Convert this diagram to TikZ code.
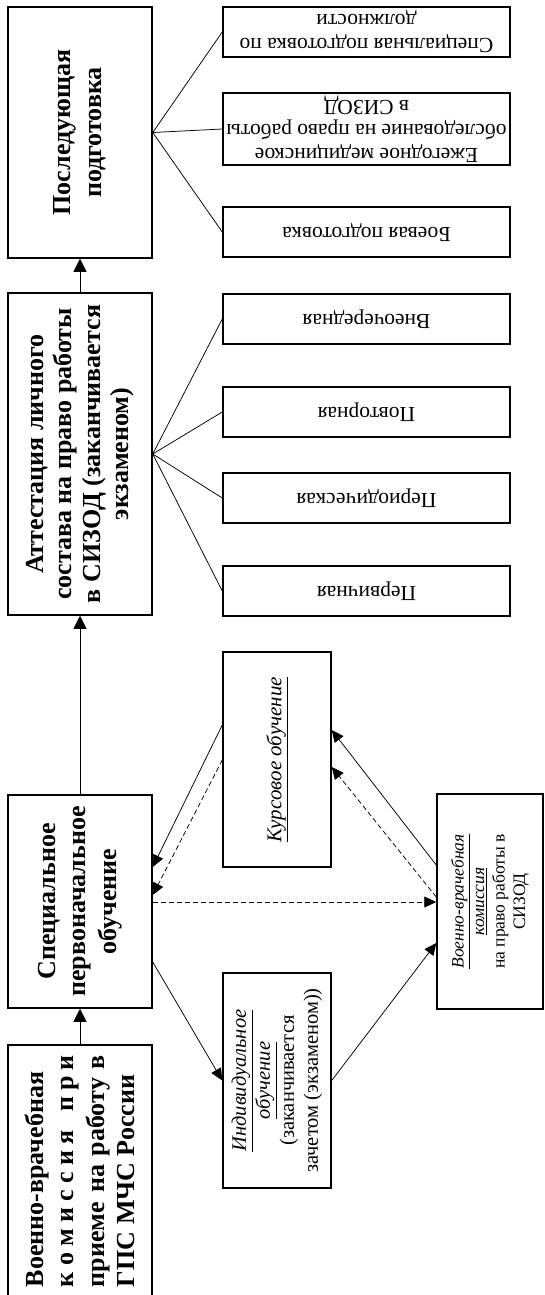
\documentclass[tikz,border=0pt]{standalone}
\usepackage{fontspec}
\setmainfont{Liberation Serif}
\usepackage{graphicx}
\usetikzlibrary{arrows.meta,calc}
\tikzset{
  box/.style={draw, line width=1.5pt, inner sep=0pt},
  lbox/.style={box, minimum width=144pt},
  rbox/.style={box, minimum width=287pt},
  mbox/.style={box, minimum width=108pt, minimum height=215pt},
  ln/.style={line width=0.75pt},
  arr/.style={ln, -{Triangle[length=12pt,width=11pt]}},
  varr/.style={ln, -{Triangle[length=13pt,width=13pt]}},
  dsh/.style={dash pattern=on 5pt off 3pt}
}
\newcommand{\bigbold}{\fontsize{26}{30.5}\selectfont\bfseries}
\newcommand{\smallrm}{\fontsize{21.5}{24}\selectfont}
\begin{document}
\begin{tikzpicture}[x=1pt,y=-1pt]
\useasboundingbox (0,0) rectangle (545,1295);

% left column
\node[lbox, minimum height=252pt] (A) at (80,1171)
  {\rotatebox{90}{\parbox{232pt}{\bigbold
   \makebox[232pt][s]{Военно-врачебная}\\
   \makebox[232pt][s]{к о м и с с и я \ \ п р и}\\
   \makebox[232pt][s]{приеме на работу в}\\
   ГПС МЧС России}}};
\node[lbox, minimum height=213pt] (B) at (80,901.5)
  {\rotatebox{90}{\parbox{200pt}{\centering\bigbold
   Специальное\\ первоначальное\\ обучение}}};
\node[lbox, minimum height=322pt] (C) at (80,454)
  {\rotatebox{90}{\parbox{300pt}{\centering\fontsize{26}{28.5}\selectfont\bfseries
   Аттестация личного\\ состава на право работы\\ в СИЗОД (заканчивается\\ экзаменом)}}};
\node[lbox, minimum height=251pt] (D) at (80,132.5)
  {\rotatebox{90}{\parbox{230pt}{\centering\fontsize{26}{31}\selectfont\bfseries
   Последующая\\ подготовка}}};

% right of D
\node[rbox, minimum height=50pt] (s1) at (366.5,32)
  {\rotatebox{180}{\parbox{280pt}{\centering\smallrm Специальная подготовка по\\ должности}}};
\node[rbox, minimum height=72pt] (s2) at (366.5,129)
  {\rotatebox{180}{\parbox{280pt}{\centering\smallrm Ежегодное медицинское\\ обследование на право работы\\ в СИЗОД}}};
\node[rbox, minimum height=50pt] (s3) at (366.5,232)
  {\rotatebox{180}{\parbox{280pt}{\centering\smallrm Боевая подготовка}}};

% right of C
\node[rbox, minimum height=50pt] (c1) at (366.5,319)
  {\rotatebox{180}{\smallrm Внеочередная}};
\node[rbox, minimum height=50pt] (c2) at (366.5,412)
  {\rotatebox{180}{\smallrm Повторная}};
\node[rbox, minimum height=50pt] (c3) at (366.5,498)
  {\rotatebox{180}{\smallrm Периодическая}};
\node[rbox, minimum height=50pt] (c4) at (366.5,591)
  {\rotatebox{180}{\smallrm Первичная}};

% middle
\node[mbox] (K) at (277,759.5)
  {\rotatebox{90}{\fontsize{21}{24}\selectfont\itshape\underline{Курсовое обучение}}};
\node[mbox] (I) at (277,1080.5)
  {\rotatebox{90}{\parbox{200pt}{\centering\fontsize{20.5}{24}\selectfont
   \underline{\textit{Индивидуальное}}\\ \underline{\textit{обучение}}\\ (заканчивается\\ зачетом (экзаменом))}}};
\node[box, minimum width=106pt, minimum height=215pt] (V) at (490,901.5)
  {\rotatebox{90}{\parbox{200pt}{\centering\fontsize{17.5}{20.5}\selectfont
   \underline{\textit{Военно-врачебная}}\\ \underline{\textit{комиссия}}\\ на право работы в\\ СИЗОД}}};

% vertical arrows
\draw[varr] (A.north) -- (B.south);
\draw[varr] (B.north) -- (C.south);
\draw[varr] (C.north) -- (D.south);

% fans
\foreach \n in {s1,s2,s3} \draw[ln] (D.east) -- (\n.west);
\foreach \n in {c1,c2,c3,c4} \draw[ln] (C.east) -- (\n.west);

% lower connections
\draw[arr] ([yshift=-60.5pt]B.east) -- (I.west);
\draw[arr] (I.east) -- ([yshift=-41.5pt]V.west);
\draw[arr] ([yshift=36.5pt]V.west) -- ([yshift=29.5pt]K.east);
\draw[arr,dsh] ([yshift=4.5pt]V.west) -- ([yshift=-7.5pt]K.east);
\draw[arr] ([yshift=34.5pt]K.west) -- ([yshift=34.5pt]B.east);
\draw[arr,dsh] ([yshift=-0.5pt]K.west) -- ([yshift=6.5pt]B.east);
\draw[arr,dsh] ([yshift=-0.5pt]B.east) -- ([yshift=-0.5pt]V.west);
\end{tikzpicture}
\end{document}
